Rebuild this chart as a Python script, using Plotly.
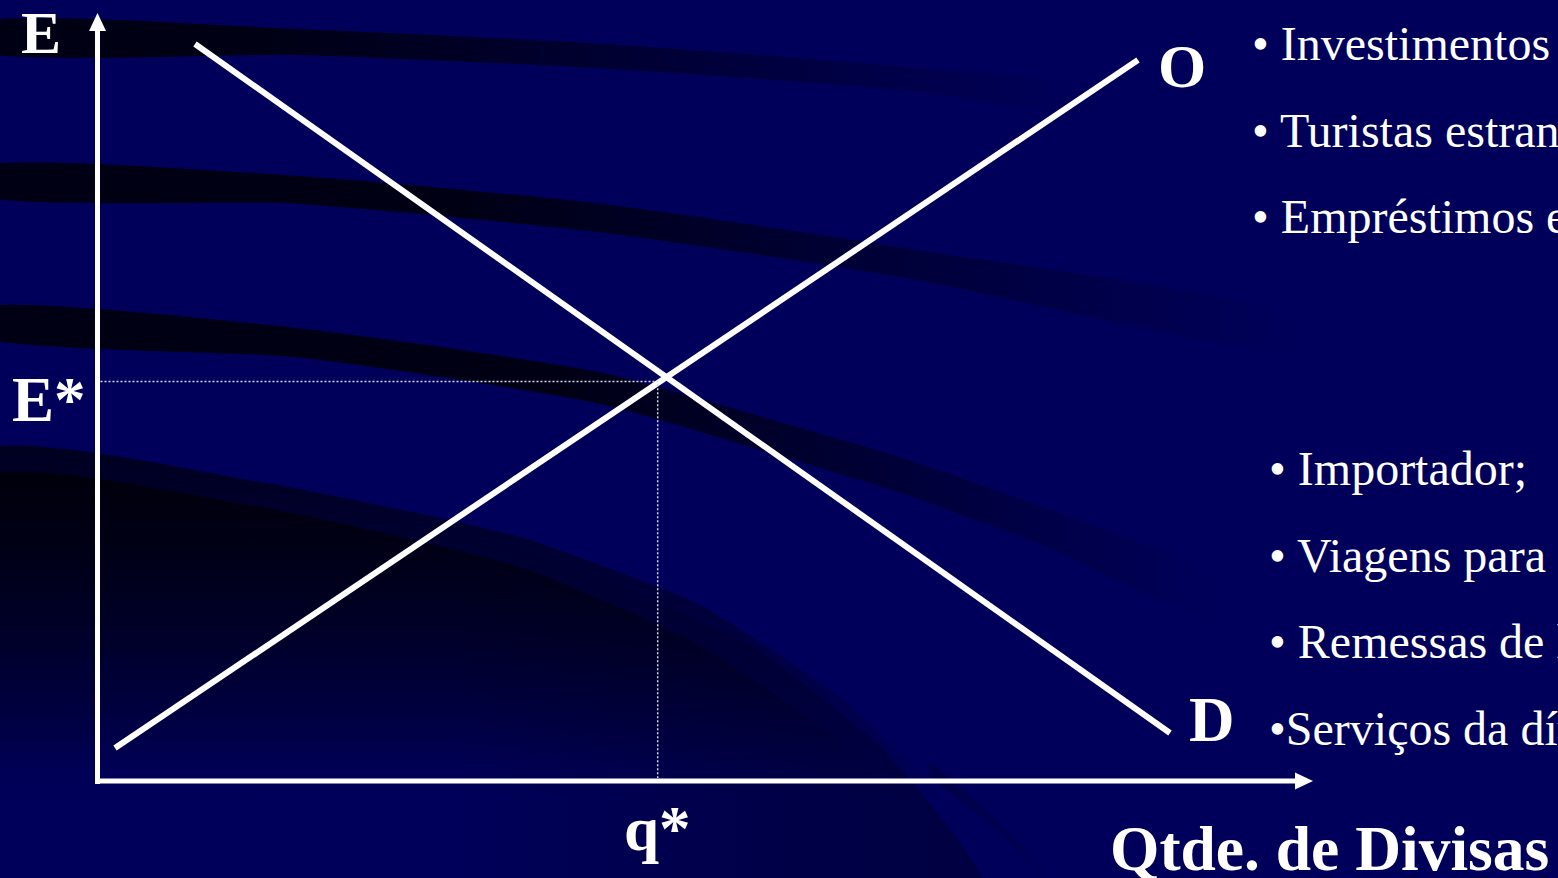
import plotly.graph_objects as go

W, H = 1558, 878
OX, OY = 97.5, 781.0          # pixel position of the origin of the diagram
NAVY = "#00005a"
FONT = "Liberation Serif, Times New Roman, Times, serif"

# ---------------- diagram data (units measured from the origin) ----------------
supply_q = [17.5, 1040.5]      # curve O (oferta)
supply_e = [33.0, 721.0]
demand_q = [97.5, 1072.5]      # curve D (demanda)
demand_e = [737.0, 48.0]
eq_q = 560.2                   # q*
eq_e = 399.5                   # E*
x_axis_len = 1215.5
y_axis_len = 768.0

labels_axes = ["E", "E*", "q*", "O", "D", "Qtde. de Divisas"]
offer_items = ["• Investimentos estrangeiros;", "• Turistas estrangeiros;",
               "• Empréstimos externos;"]
demand_items = ["• Importador;", "• Viagens para o exterior;",
                "• Remessas de lucros;", "•Serviços da dívida externa"]


def X(px):
    return px - OX


def Y(py):
    return OY - py


fig = go.Figure()

# ---------------- decorative background bands ----------------
def band(points, thick0, thick1, fade_from, fade_to, alpha):
    n = len(points)
    top, bot = [], []
    for i, (px, py) in enumerate(points):
        t = thick0 + (thick1 - thick0) * i / (n - 1)
        top.append((px, py - t / 2))
        bot.append((px, py + t / 2))
    poly = top + bot[::-1] + [top[0]]
    xs = [X(p[0]) for p in poly]
    ys = [Y(p[1]) for p in poly]
    fig.add_trace(go.Scatter(
        x=xs, y=ys, mode="lines", line=dict(width=0, shape="spline", smoothing=0.6),
        fill="toself",
        fillgradient=dict(type="horizontal", start=X(fade_from), stop=X(fade_to),
                          colorscale=[[0, f"rgba(0,0,12,{alpha})"],
                                      [0.45, f"rgba(0,0,12,{alpha*0.55})"],
                                      [1, "rgba(0,0,12,0)"]]),
        hoverinfo="skip", showlegend=False))


band([(-20, 37), (300, 42), (600, 56), (900, 78), (1100, 100)], 27, 22, 250, 1100, 0.9)
band([(-20, 181), (300, 190), (600, 218), (900, 262), (1300, 335)], 27, 30, 450, 1300, 0.9)
band([(-20, 322), (300, 343), (600, 388), (750, 430), (900, 475), (1040, 525), (1220, 600)],
     27, 40, 550, 1220, 0.9)
band([(930, 770), (980, 810), (1030, 860), (1050, 890)], 12, 12, 930, 1060, 0.25)


def region(edge, y0, y1, alpha):
    pts = edge + [(edge[-1][0], 900), (-20, 900), edge[0]]
    fig.add_trace(go.Scatter(
        x=[X(p[0]) for p in pts], y=[Y(p[1]) for p in pts], mode="lines",
        line=dict(width=0, shape="spline", smoothing=0.5), fill="toself",
        fillgradient=dict(type="vertical", start=Y(y1), stop=Y(y0),
                          colorscale=[[0, "rgba(0,0,8,0)"], [1, f"rgba(0,0,8,{alpha})"]]),
        hoverinfo="skip", showlegend=False))


region([(-20, 452), (260, 482), (520, 537), (700, 605), (850, 705), (950, 805), (1015, 900)],
       452, 800, 0.7)
region([(-20, 478), (260, 507), (520, 567), (700, 645), (850, 750), (930, 840), (975, 900)],
       478, 770, 0.85)

# darker right part of the arc, fading to the left
rim = [(450, 532), (600, 578), (750, 645), (880, 745), (960, 842), (992, 900),
       (450, 900), (450, 532)]
fig.add_trace(go.Scatter(
    x=[X(p[0]) for p in rim], y=[Y(p[1]) for p in rim], mode="lines",
    line=dict(width=0, shape="spline", smoothing=0.4), fill="toself",
    fillgradient=dict(type="horizontal", start=X(450), stop=X(992),
                      colorscale=[[0, "rgba(0,0,8,0)"], [0.6, "rgba(0,0,8,0.22)"],
                                  [1, "rgba(0,0,8,0.3)"]]),
    hoverinfo="skip", showlegend=False))

# ---------------- supply / demand ----------------
fig.add_trace(go.Scatter(x=supply_q, y=supply_e, mode="lines",
                         line=dict(color="white", width=6), hoverinfo="skip", showlegend=False))
fig.add_trace(go.Scatter(x=demand_q, y=demand_e, mode="lines",
                         line=dict(color="white", width=6), hoverinfo="skip", showlegend=False))
fig.add_trace(go.Scatter(x=[3, eq_q, eq_q], y=[eq_e, eq_e, 3], mode="lines",
                         line=dict(color="#d8d8e8", width=1.5, dash="2px,2px"),
                         hoverinfo="skip", showlegend=False))

# ---------------- axes with arrow heads ----------------
head_len, head_half = 18, 8.5
shapes = [
    dict(type="line", x0=0, y0=-3, x1=0, y1=y_axis_len - head_len,
         line=dict(color="white", width=5)),
    dict(type="line", x0=-2.5, y0=0, x1=x_axis_len - head_len, y1=0,
         line=dict(color="white", width=5)),
    dict(type="path", path=f"M {-head_half} {y_axis_len - head_len} L {head_half} {y_axis_len - head_len} L 0 {y_axis_len} Z",
         fillcolor="white", line=dict(width=0)),
    dict(type="path", path=f"M {x_axis_len - head_len} {head_half} L {x_axis_len - head_len} {-head_half} L {x_axis_len} 0 Z",
         fillcolor="white", line=dict(width=0)),
]

# ---------------- text ----------------
annotations = []


def label(text, px_left, baseline, size, bold=False):
    cy = baseline - 0.3375 * size
    annotations.append(dict(
        text=f"<b>{text}</b>" if bold else text, x=X(px_left), y=Y(cy),
        xref="x", yref="y", xanchor="left", yanchor="middle", showarrow=False,
        borderpad=0, borderwidth=0, font=dict(family=FONT, size=size, color="white")))


label(labels_axes[0], 21, 53, 60, True)
label(labels_axes[1], 12, 421, 63, True)
label(labels_axes[2], 624, 850, 63, True)
label(labels_axes[3], 1158, 87, 62, True)
label(labels_axes[4], 1189, 741, 63, True)
label(labels_axes[5], 1110, 870, 63.5, True)
for i, t in enumerate(offer_items):
    label(t, 1252, 60 + 86.5 * i, 48)
for i, t in enumerate(demand_items):
    label(t, 1269, 485 + 86.5 * i, 48)

fig.update_layout(
    width=W, height=H, margin=dict(l=0, r=0, t=0, b=0),
    paper_bgcolor=NAVY, plot_bgcolor=NAVY,
    xaxis=dict(range=[X(0), X(W)], visible=False, fixedrange=True),
    yaxis=dict(range=[Y(H), Y(0)], visible=False, fixedrange=True),
    showlegend=False, hovermode=False,
    shapes=shapes, annotations=annotations,
)

fig.write_html("out.html", config={"displayModeBar": False},
               post_script="document.body.style.margin='0';document.body.style.overflow='hidden';")
